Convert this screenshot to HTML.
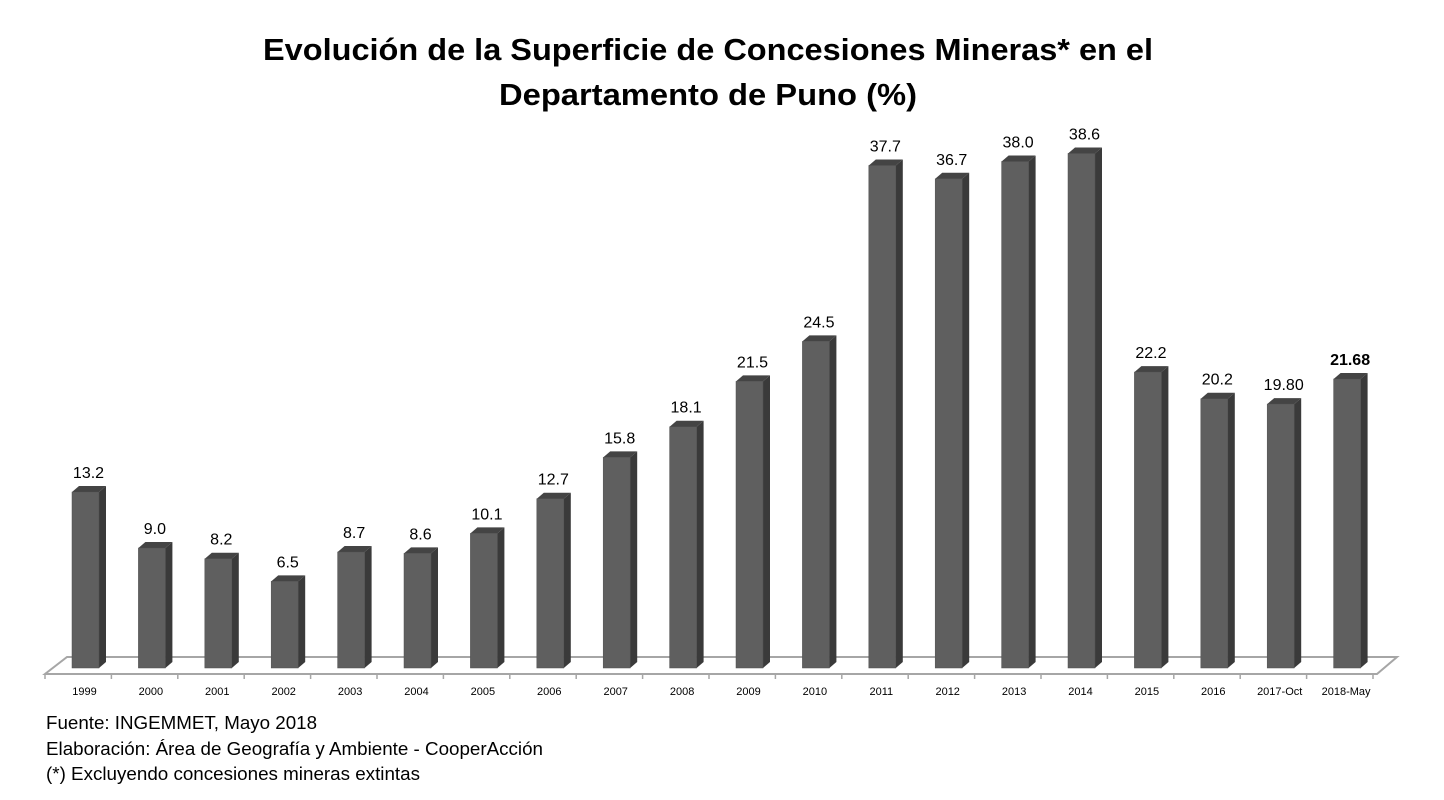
<!DOCTYPE html>
<html><head><meta charset="utf-8"><style>
html,body{margin:0;padding:0;background:#fff;width:1444px;height:800px;overflow:hidden;}
svg{display:block;font-family:"Liberation Sans",sans-serif;}
</style></head><body>
<svg id="chart" width="1444" height="800" viewBox="0 0 1444 800">
<text x="708" y="60" text-anchor="middle" font-size="31" font-weight="bold" textLength="890" lengthAdjust="spacingAndGlyphs">Evolución de la Superficie de Concesiones Mineras* en el</text>
<text x="708" y="105" text-anchor="middle" font-size="31" font-weight="bold" textLength="418" lengthAdjust="spacingAndGlyphs">Departamento de Puno (%)</text>
<polygon points="45,674 1377,674 1397,657 67,657" fill="#fff" stroke="#a6a6a6" stroke-width="2"/>
<g id="bars"></g>
<g id="axis"></g>
<text x="46" y="729" font-size="18" textLength="271" lengthAdjust="spacingAndGlyphs">Fuente: INGEMMET, Mayo 2018</text>
<text x="46" y="755" font-size="18" textLength="497" lengthAdjust="spacingAndGlyphs">Elaboración: Área de Geografía y Ambiente - CooperAcción</text>
<text x="46" y="780" font-size="18" textLength="374" lengthAdjust="spacingAndGlyphs">(*) Excluyendo concesiones mineras extintas</text>
</svg>
<script>
const categories=["1999","2000","2001","2002","2003","2004","2005","2006","2007","2008","2009","2010","2011","2012","2013","2014","2015","2016","2017-Oct","2018-May"];
const values=[13.2,9.0,8.2,6.5,8.7,8.6,10.1,12.7,15.8,18.1,21.5,24.5,37.7,36.7,38.0,38.6,22.2,20.2,19.80,21.68];
const valueLabels=["13.2","9.0","8.2","6.5","8.7","8.6","10.1","12.7","15.8","18.1","21.5","24.5","37.7","36.7","38.0","38.6","22.2","20.2","19.80","21.68"];
const NS="http://www.w3.org/2000/svg";
const base=668, ppu=13.33, x0=72, step=66.4, bw=27, dx=7, dy=6;
const xScale=i=>x0+step*i;
const yScale=v=>base-v*ppu;
const bars=document.getElementById('bars'), axis=document.getElementById('axis');
function mk(tag,attrs,parent){const e=document.createElementNS(NS,tag);for(const k in attrs)e.setAttribute(k,attrs[k]);parent.appendChild(e);return e;}
values.forEach((v,i)=>{
  const x=xScale(i), y=yScale(v);
  const g=mk('g',{},bars);
  
  
  mk('polygon',{points:`${x+bw},${y} ${x+bw+dx},${y-dy} ${x+bw+dx},${base-dy} ${x+bw},${base}`,fill:'#3a3a3a'},g);
  mk('polygon',{points:`${x},${y} ${x+dx},${y-dy} ${x+bw+dx},${y-dy} ${x+bw},${y}`,fill:'#444'},g);
  mk('rect',{x:x,y:y,width:bw,height:base-y,fill:'#5f5f5f',stroke:'#505050','stroke-width':0.5},g);
  const t=mk('text',{x:x+bw/2+3,y:y-14,'text-anchor':'middle','font-size':16,'font-weight':i===19?'bold':'normal',fill:'#000'},bars);
  t.textContent=valueLabels[i];
  
  
  const l=mk('text',{x:x+bw/2-1,y:695,'text-anchor':'middle','font-size':11,fill:'#000'},axis);
  l.textContent=categories[i];
  
  
});
for(let i=0;i<=categories.length;i++){
  const tx=45+step*i;
  const tk=mk('line',{x1:Math.min(tx,1377),y1:674,x2:Math.min(tx,1377),y2:679,stroke:'#a6a6a6','stroke-width':1.5},axis);
  
  
}
</script>
</body></html>
